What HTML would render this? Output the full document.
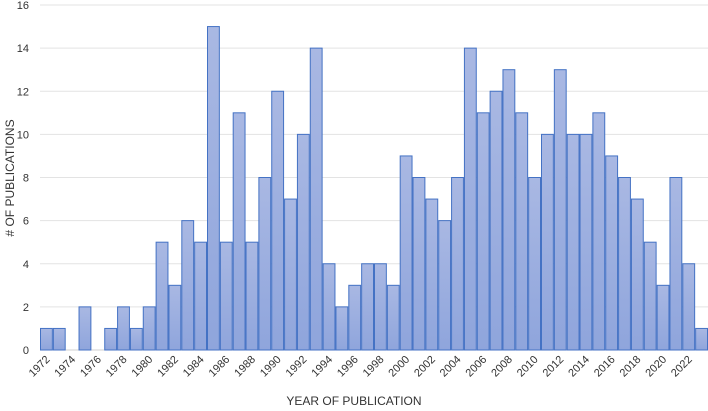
<!DOCTYPE html>
<html><head><meta charset="utf-8"><style>
body{margin:0;background:#fff;font-family:"Liberation Sans",sans-serif}
svg{display:block}
</style></head><body>
<svg id="chart" width="708" height="411">
<defs><linearGradient id="g" x1="0" y1="0" x2="0" y2="1"><stop offset="0" stop-color="#a9b8e3"/><stop offset="1" stop-color="#8fa5dc"/></linearGradient></defs>
<g id="grid"></g><g id="bars"></g><g id="yt"></g><g id="xt"></g>
<text x="354" y="405" text-anchor="middle" font-size="12" fill="#333">YEAR OF PUBLICATION</text>
<text transform="translate(14,178) rotate(-90)" text-anchor="middle" font-size="12" fill="#333"># OF PUBLICATIONS</text>
</svg>
<script>
const years=[];for(let y=1972;y<=2023;y++)years.push(y);
const counts=[1,1,0,2,0,1,2,1,2,5,3,6,5,15,5,11,5,8,12,7,10,14,4,2,3,4,4,3,9,8,7,6,8,14,11,12,13,11,8,10,13,10,10,11,9,8,7,5,3,8,4,1];
const yTicks=[0,2,4,6,8,10,12,14,16];
const NS="http://www.w3.org/2000/svg";
const x0=40,x1=708,y0=350,y1=5,yMax=16;
const bw=(x1-x0)/years.length;
const xs=i=>x0+i*bw, ys=v=>y0-(v/yMax)*(y0-y1);
function mk(t,a,p){const e=document.createElementNS(NS,t);for(const k in a)e.setAttribute(k,a[k]);p.appendChild(e);return e;}
const grid=document.getElementById('grid'),yt=document.getElementById('yt');
yTicks.forEach(v=>{
 const l=mk('line',{x1:x0,x2:x1,y1:ys(v),y2:ys(v),stroke:v===0?'#d0d0d0':'#e3e3e3','stroke-width':1},grid);
 
 
 const t=mk('text',{x:29,y:ys(v)+4,'text-anchor':'end','font-size':11,fill:'#333'},yt);t.textContent=v;
 
 
});
const bars=document.getElementById('bars'),xt=document.getElementById('xt');
years.forEach((yr,i)=>{
 const v=counts[i];
 if(v>0){const r=mk('rect',{x:xs(i)+0.5,y:ys(v),width:bw-1,height:y0-ys(v),fill:'url(#g)',stroke:'#4472c4','stroke-width':1},bars);
 
 }
 if(i%2===0){const cx=xs(i)+bw/2;
 const t=mk('text',{x:cx+4,y:y0+10,'text-anchor':'end','font-size':11,fill:'#333',transform:`rotate(-45 ${cx+4} ${y0+10})`},xt);t.textContent=yr;
 
 }
});
</script>
</body></html>
